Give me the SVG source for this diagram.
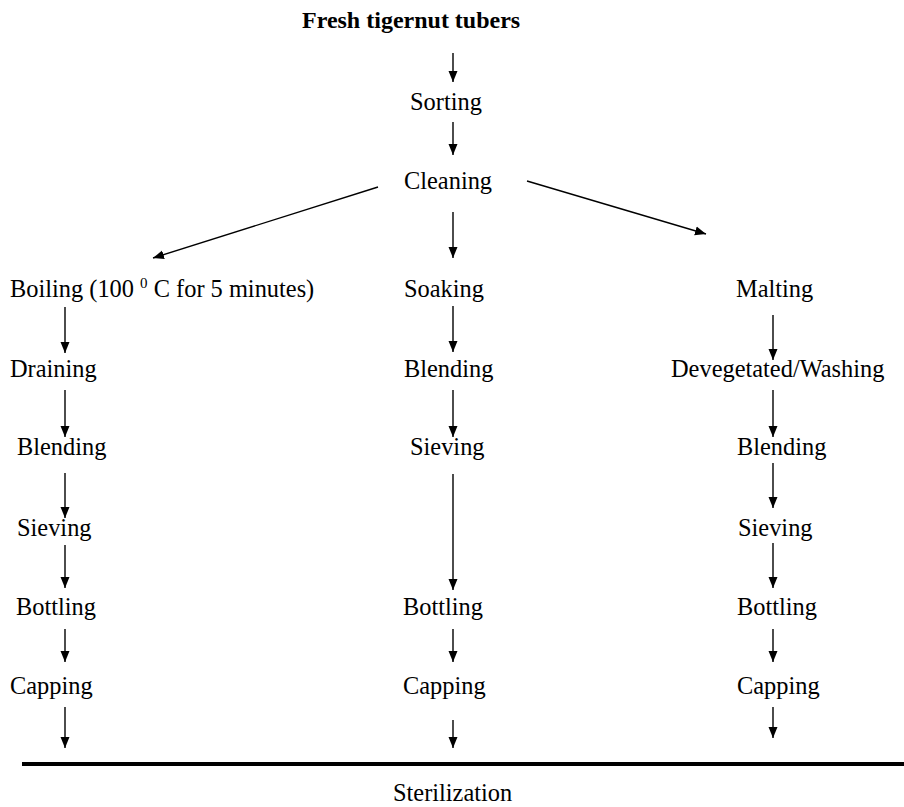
<svg xmlns="http://www.w3.org/2000/svg" width="904" height="807" viewBox="0 0 904 807">
<defs>
<style>
.t{font-family:"Liberation Serif","Times New Roman",serif;font-size:24.4px}
.b{font-weight:bold;font-size:24px}
.c line{stroke:#000;stroke-width:1.4;fill:none}
</style>
<marker id="ah" markerUnits="userSpaceOnUse" markerWidth="12" markerHeight="12" viewBox="0 0 12 12" refX="11" refY="6" orient="auto">
<path d="M0,1.5 L11,6 L0,10.5 Z" fill="#000"/>
</marker>
</defs>
<rect width="904" height="807" fill="#fff"/>
<g id="n-fresh"><text class="t b" x="302" y="28">Fresh tigernut tubers</text></g>
<g id="n-sorting"><text class="t" x="410" y="110">Sorting</text></g>
<g id="n-cleaning"><text class="t" x="404" y="189">Cleaning</text></g>
<g id="n-boiling"><text class="t" x="10" y="297">Boiling (100 <tspan font-size="15" dy="-9">0</tspan><tspan dy="9"> C for 5 minutes)</tspan></text></g>
<g id="n-draining"><text class="t" x="10" y="377">Draining</text></g>
<g id="n-blending1"><text class="t" x="17" y="455">Blending</text></g>
<g id="n-sieving1"><text class="t" x="17" y="536">Sieving</text></g>
<g id="n-bottling1"><text class="t" x="16" y="615">Bottling</text></g>
<g id="n-capping1"><text class="t" x="10" y="694">Capping</text></g>
<g id="n-soaking"><text class="t" x="404" y="297">Soaking</text></g>
<g id="n-blending2"><text class="t" x="404" y="377">Blending</text></g>
<g id="n-sieving2"><text class="t" x="410" y="455">Sieving</text></g>
<g id="n-bottling2"><text class="t" x="403" y="615">Bottling</text></g>
<g id="n-capping2"><text class="t" x="403" y="694">Capping</text></g>
<g id="n-malting"><text class="t" x="736" y="297">Malting</text></g>
<g id="n-deveg"><text class="t" x="671" y="377">Devegetated/Washing</text></g>
<g id="n-blending3"><text class="t" x="737" y="455">Blending</text></g>
<g id="n-sieving3"><text class="t" x="738" y="536">Sieving</text></g>
<g id="n-bottling3"><text class="t" x="737" y="615">Bottling</text></g>
<g id="n-capping3"><text class="t" x="737" y="694">Capping</text></g>
<g id="n-steril"><line x1="22" y1="764" x2="904" y2="764" stroke="#000" stroke-width="4"/><text class="t" x="393" y="801">Sterilization</text></g>
<g id="connectors" class="c">
<line x1="453" y1="53" x2="453" y2="82" marker-end="url(#ah)"/>
<line x1="453" y1="122" x2="453" y2="155" marker-end="url(#ah)"/>
<line x1="378" y1="187" x2="153" y2="258" marker-end="url(#ah)"/>
<line x1="453" y1="212" x2="453" y2="258" marker-end="url(#ah)"/>
<line x1="527" y1="181" x2="706" y2="234" marker-end="url(#ah)"/>
<line x1="65" y1="307" x2="65" y2="353" marker-end="url(#ah)"/>
<line x1="65" y1="390" x2="65" y2="437" marker-end="url(#ah)"/>
<line x1="65" y1="473" x2="65" y2="518" marker-end="url(#ah)"/>
<line x1="65" y1="545" x2="65" y2="588" marker-end="url(#ah)"/>
<line x1="65" y1="629" x2="65" y2="662" marker-end="url(#ah)"/>
<line x1="65" y1="707" x2="65" y2="748" marker-end="url(#ah)"/>
<line x1="453" y1="306" x2="453" y2="352" marker-end="url(#ah)"/>
<line x1="453" y1="390" x2="453" y2="437" marker-end="url(#ah)"/>
<line x1="453" y1="474" x2="453" y2="590" marker-end="url(#ah)"/>
<line x1="453" y1="629" x2="453" y2="662" marker-end="url(#ah)"/>
<line x1="453" y1="720" x2="453" y2="748" marker-end="url(#ah)"/>
<line x1="773" y1="315" x2="773" y2="360" marker-end="url(#ah)"/>
<line x1="773" y1="390" x2="773" y2="437" marker-end="url(#ah)"/>
<line x1="773" y1="463" x2="773" y2="508" marker-end="url(#ah)"/>
<line x1="773" y1="543" x2="773" y2="588" marker-end="url(#ah)"/>
<line x1="773" y1="629" x2="773" y2="662" marker-end="url(#ah)"/>
<line x1="773" y1="707" x2="773" y2="738" marker-end="url(#ah)"/>
</g>
</svg>
